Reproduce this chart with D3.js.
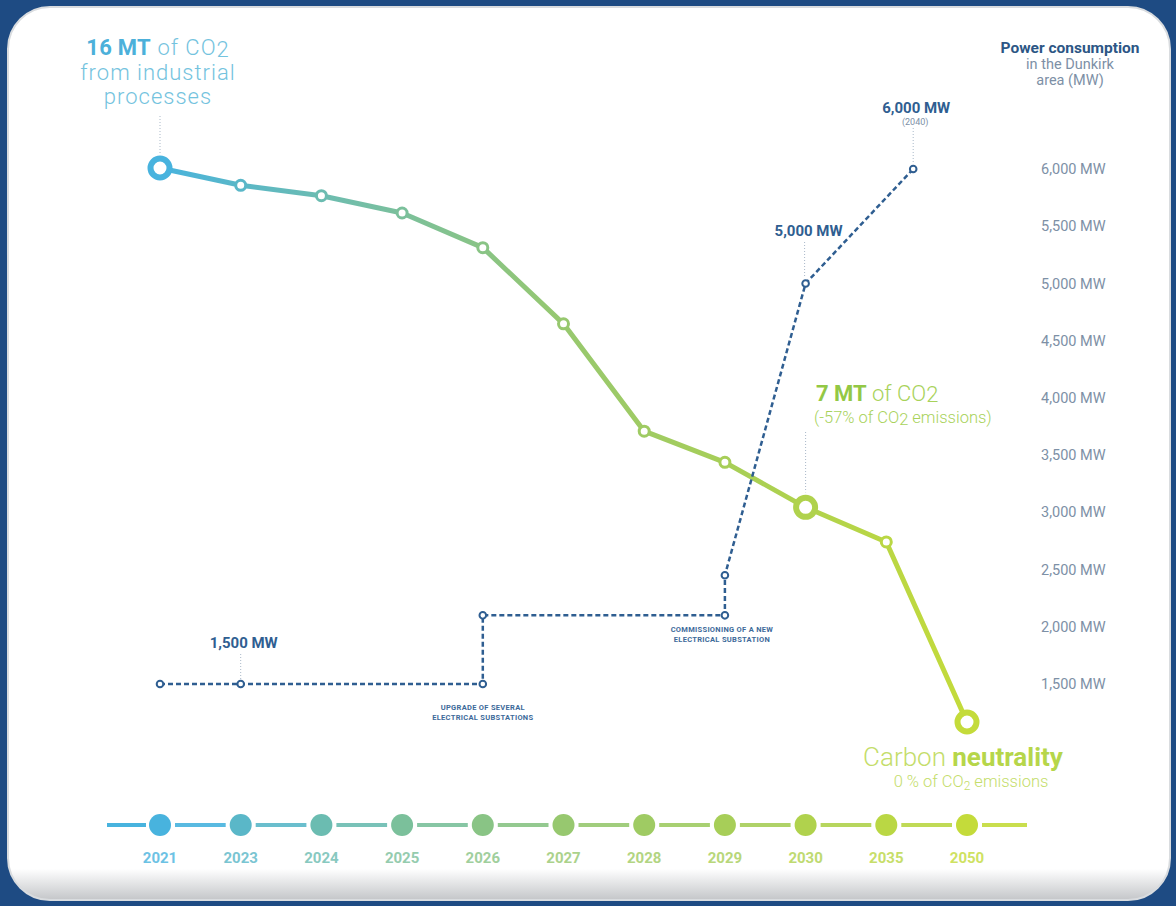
<!DOCTYPE html>
<html>
<head>
<meta charset="utf-8">
<title>Dunkirk CO2 and power consumption</title>
<script src="https://cdn.jsdelivr.net/npm/d3@7"></script>
<style>
  html, body { margin: 0; padding: 0; background: #1e4b83; }
  svg { display: block; font-family: Roboto, "DejaVu Sans", sans-serif; }
</style>
</head>
<body>
<div id="container"></div>
<script>
  // ---- data
  var years = [2021, 2023, 2024, 2025, 2026, 2027, 2028, 2029, 2030, 2035, 2050];
  var co2Values = [16, 15.5, 15.2, 14.7, 13.7, 11.5, 8.4, 7.5, 6.2, 5.2, 0];   // MT
  var co2BigPoints = [2021, 2030, 2050];

  var powerYears  = [2021, 2023, 2026, 2026, 2029, 2029, 2030, 2040];
  var powerValues = [1500, 1500, 1500, 2100, 2100, 2450, 5000, 6000];          // MW
  var powerMarks  = [0, 1, 2, 3, 4, 5, 6, 7];

  var mwTicks = [1500, 2000, 2500, 3000, 3500, 4000, 4500, 5000, 5500, 6000];

  var width = 1176, height = 906;

  var svg = d3.select("#container").append("svg")
      .attr("width", width)
      .attr("height", height);

  var defs = svg.append("defs");

  // palette blue -> yellow green
  var palette = d3.piecewise(d3.interpolateRgb, ["#48b3de", "#74bea6", "#97c86f", "#abd052", "#c4db3a"]);

  // ---- panel
  var pg = defs.append("linearGradient").attr("id", "panelShade")
      .attr("x1", 0).attr("y1", 0).attr("x2", 0).attr("y2", 1);
  pg.append("stop").attr("offset", "0.965").attr("stop-color", "#ffffff");
  pg.append("stop").attr("offset", "1").attr("stop-color", "#c4c6c9");

  svg.append("rect")
      .attr("x", 8).attr("y", 7)
      .attr("width", 1162).attr("height", 893)
      .attr("rx", 42).attr("ry", 42)
      .attr("fill", "url(#panelShade)")
      .attr("stroke", "#d9dcdf")
      .attr("stroke-width", 2);

  // ---- scales
  var xPoint = d3.scalePoint().domain(years).range([160, 967]);
  var xYear = d3.scaleLinear().domain(years).range(years.map(function(d){ return xPoint(d); }));
  var yCO2 = d3.scaleLinear().domain([0, 16]).range([722, 168]);
  var yMW = d3.scaleLinear().domain([1500, 6000]).range([684, 169]);

  // ---- right axis
  var yAxis = d3.axisRight(yMW)
      .tickValues(mwTicks)
      .tickSize(0)
      .tickPadding(6)
      .tickFormat(function(d){ return d3.format(",")(d) + " MW"; });

  var ax = svg.append("g")
      .attr("transform", "translate(1035,0)")
      .call(yAxis);
  ax.select(".domain").remove();
  ax.selectAll(".tick text")
      .attr("fill", "#7d90a6")
      .style("font-size", "14.5px")
      .style("font-family", "Roboto, sans-serif");

  var head = svg.append("text")
      .attr("text-anchor", "middle")
      .attr("x", 1070).attr("y", 53);
  head.append("tspan").attr("x", 1070).attr("font-weight", "bold").attr("fill", "#2c5685").style("font-size", "15.5px").text("Power consumption");
  head.append("tspan").attr("x", 1070).attr("dy", 16).attr("fill", "#7d90a6").style("font-size", "14.5px").text("in the Dunkirk");
  head.append("tspan").attr("x", 1070).attr("dy", 16).attr("fill", "#7d90a6").style("font-size", "14.5px").text("area (MW)");

  // ---- timeline
  var tl = svg.append("g");
  tl.append("line")
      .attr("x1", 107).attr("x2", 146).attr("y1", 825).attr("y2", 825)
      .attr("stroke", palette(0)).attr("stroke-width", 4);
  years.forEach(function(y, i){
    var c = palette(i / (years.length - 1));
    var x = xPoint(y);
    var nx = i < years.length - 1 ? xPoint(years[i + 1]) : 1027;
    tl.append("line")
        .attr("x1", x + 15).attr("x2", i < years.length - 1 ? nx - 15 : nx)
        .attr("y1", 825).attr("y2", 825)
        .attr("stroke", c).attr("stroke-width", 4).attr("opacity", 0.9);
    tl.append("circle")
        .attr("cx", x).attr("cy", 825).attr("r", 11)
        .attr("fill", c);
    tl.append("text")
        .attr("x", x).attr("y", 863)
        .attr("text-anchor", "middle")
        .attr("font-weight", "bold")
        .style("font-size", "15px")
        .attr("fill", c)
        .attr("opacity", 0.8)
        .text(y);
  });

  // ---- CO2 line
  var lg = defs.append("linearGradient").attr("id", "co2Grad")
      .attr("gradientUnits", "userSpaceOnUse")
      .attr("x1", xPoint(2021)).attr("x2", xPoint(2050)).attr("y1", 0).attr("y2", 0);
  d3.range(0, 1.01, 0.25).forEach(function(t){
    lg.append("stop").attr("offset", t).attr("stop-color", palette(t));
  });

  var co2Data = years.map(function(y, i){ return {year: y, value: co2Values[i], i: i}; });

  var co2Line = d3.line()
      .x(function(d){ return xYear(d.year); })
      .y(function(d){ return yCO2(d.value); });

  svg.append("path")
      .datum(co2Data)
      .attr("d", co2Line)
      .attr("fill", "none")
      .attr("stroke", "url(#co2Grad)")
      .attr("stroke-width", 5)
      .attr("stroke-linejoin", "round");

  // ---- leader lines (dotted)
  function leader(x, y1, y2){
    svg.append("line")
        .attr("x1", x).attr("x2", x).attr("y1", y1).attr("y2", y2)
        .attr("stroke", "#a9b8c8").attr("stroke-width", 1)
        .attr("stroke-dasharray", "1,2");
  }
  leader(xYear(2021), 116, yCO2(16) - 15);
  leader(xYear(2030), 432, yCO2(6.2) - 15);
  leader(xYear(2023), 654, yMW(1500) - 5);
  leader(xYear(2030) - 1, 242, yMW(5000) - 6);
  leader(xYear(2040), 128, yMW(6000) - 6);

  svg.selectAll(".co2pt")
      .data(co2Data)
      .enter().append("circle")
      .attr("class", "co2pt")
      .attr("cx", function(d){ return xYear(d.year); })
      .attr("cy", function(d){ return yCO2(d.value); })
      .attr("r", function(d){ return co2BigPoints.indexOf(d.year) >= 0 ? 9.5 : 5; })
      .attr("fill", "#fff")
      .attr("stroke", function(d){ return palette(d.i / (years.length - 1)); })
      .attr("stroke-width", function(d){ return co2BigPoints.indexOf(d.year) >= 0 ? 6 : 3; });

  // ---- power line
  var powData = powerYears.map(function(y, i){ return {year: y, value: powerValues[i]}; });
  var powLine = d3.line()
      .x(function(d){ return xYear(d.year); })
      .y(function(d){ return yMW(d.value); });

  svg.append("path")
      .datum(powData)
      .attr("d", powLine)
      .attr("fill", "none")
      .attr("stroke", "#2f5e91")
      .attr("stroke-width", 2.5)
      .attr("stroke-dasharray", "5,3");

  svg.selectAll(".powpt")
      .data(powerMarks.map(function(i){ return powData[i]; }))
      .enter().append("circle")
      .attr("class", "powpt")
      .attr("cx", function(d){ return xYear(d.year); })
      .attr("cy", function(d){ return yMW(d.value); })
      .attr("r", 3.3)
      .attr("fill", "#fff")
      .attr("stroke", "#2f5e91")
      .attr("stroke-width", 2);

  // ---- annotations
  var t1 = svg.append("text").attr("text-anchor", "middle").attr("fill", "#74c3de")
      .attr("font-weight", 300).style("font-size", "22px").style("letter-spacing", "1px");
  var l1 = t1.append("tspan").attr("x", 158).attr("y", 55);
  l1.append("tspan").attr("font-weight", "bold").attr("fill", "#4cb0da").style("letter-spacing", "0.3px").text("16 MT");
  l1.append("tspan").text(" of CO");
  l1.append("tspan").attr("dy", 2).text("2");
  t1.append("tspan").attr("x", 158).attr("y", 80).text("from industrial");
  t1.append("tspan").attr("x", 158).attr("y", 104).text("processes");

  var t2 = svg.append("text").attr("fill", "#a8d25a").attr("font-weight", 300);
  var l2 = t2.append("tspan").attr("x", 816).attr("y", 401).style("font-size", "22px");
  l2.append("tspan").attr("font-weight", "bold").attr("fill", "#93c845").text("7 MT");
  l2.append("tspan").text(" of CO");
  l2.append("tspan").attr("dy", 1).text("2");
  var l3 = t2.append("tspan").attr("x", 814).attr("y", 423).style("font-size", "16.5px");
  l3.append("tspan").attr("dy", 0).text("(-57% of CO");
  l3.append("tspan").attr("dy", 2).text("2");
  l3.append("tspan").attr("dy", -2).text(" emissions)");

  var t3 = svg.append("text").attr("text-anchor", "middle").attr("fill", "#c4dd6a").attr("font-weight", 300);
  var l4 = t3.append("tspan").attr("x", 963).attr("y", 766).style("font-size", "26px");
  l4.append("tspan").text("Carbon ");
  l4.append("tspan").attr("font-weight", "bold").attr("fill", "#b6d64a").text("neutrality");
  var l5 = t3.append("tspan").attr("x", 971).attr("y", 787).style("font-size", "16.5px");
  l5.append("tspan").text("0 % of CO");
  l5.append("tspan").attr("dy", 3).style("font-size", "12px").text("2");
  l5.append("tspan").attr("dy", -3).text(" emissions");

  function mwLabel(x, y, txt){
    svg.append("text")
        .attr("x", x).attr("y", y)
        .attr("text-anchor", "middle")
        .attr("font-weight", "bold")
        .attr("fill", "#2f5e91")
        .style("font-size", "15px")
        .text(txt);
  }
  mwLabel(xYear(2023) + 3, 648, "1,500 MW");
  mwLabel(xYear(2030) + 3, 236, "5,000 MW");
  mwLabel(xYear(2040) + 3, 113, "6,000 MW");
  svg.append("text")
      .attr("x", xYear(2040) + 2).attr("y", 125)
      .attr("text-anchor", "middle")
      .attr("fill", "#7d90a6")
      .style("font-size", "9px")
      .text("(2040)");

  function note(x, y, lines){
    var t = svg.append("text")
        .attr("text-anchor", "middle")
        .attr("font-weight", "bold")
        .attr("fill", "#3d6a9a")
        .style("font-size", "7.5px")
        .style("letter-spacing", "0.3px");
    lines.forEach(function(s, i){
      t.append("tspan").attr("x", x).attr("y", y + i * 10).text(s);
    });
  }
  note(xYear(2026), 710, ["UPGRADE OF SEVERAL", "ELECTRICAL SUBSTATIONS"]);
  note(xYear(2029) - 3, 632, ["COMMISSIONING OF A NEW", "ELECTRICAL SUBSTATION"]);
</script>
</body>
</html>
